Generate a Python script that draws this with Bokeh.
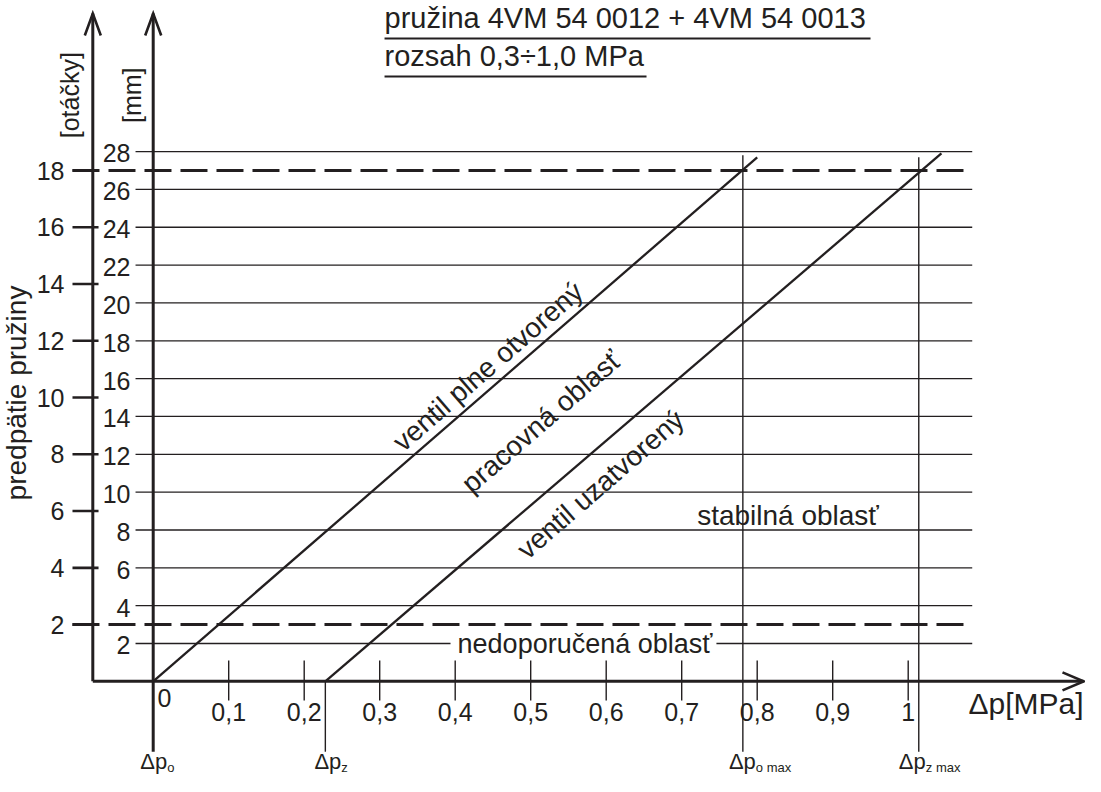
from bokeh.plotting import figure
from bokeh.models import Range1d
from bokeh.core.properties import value
from bokeh.embed import file_html
from bokeh.resources import INLINE

# ---------------- data ----------------
dp_ticks = [0.1, 0.2, 0.3, 0.4, 0.5, 0.6, 0.7, 0.8, 0.9, 1.0]
dp_tick_labels = ["0,1", "0,2", "0,3", "0,4", "0,5", "0,6", "0,7", "0,8", "0,9", "1"]

mm_ticks = [2, 4, 6, 8, 10, 12, 14, 16, 18, 20, 22, 24, 26, 28]
mm_tick_labels = [str(v) for v in mm_ticks]

turn_ticks = [2, 4, 6, 8, 10, 12, 14, 16, 18]
turn_tick_labels = [str(v) for v in turn_ticks]
mm_per_turn = 1.5                      # 18 turns = 27 mm

limit_turns = [2, 18]                  # dashed limits

# characteristic lines (Δp [MPa], pre-tension [mm])
open_dp = [0.0, 0.80]
open_mm = [0.0, 27.7]
closed_dp = [0.228, 1.044]
closed_mm = [0.0, 27.9]

# marker pressures
marker_dp = [0.0, 0.228, 0.781, 1.014]
marker_sub = ["o", "z", "o max", "z max"]
marker_top_mm = [None, 0.0, 27.8, 27.7]

title_lines = ["pružina 4VM 54 0012 + 4VM 54 0013", "rozsah 0,3÷1,0 MPa"]
region_texts = ["ventil plne otvorený", "pracovná oblasť", "ventil uzatvorený"]
stable_text = "stabilná oblasť"
notrec_text = "nedoporučená oblasť"

# ---------------- layout (data units) ----------------
PX_X = 755.0      # px per MPa
PX_Y = 18.92      # px per mm
W, H = 1085, 776
x0 = -152.7 / PX_X
y0 = -(H - 680.85) / PX_Y

INK = "#231f20"
FONT = value("Liberation Sans")

p = figure(width=W, height=H, output_backend="svg", toolbar_location=None,
           x_range=Range1d(x0, x0 + W / PX_X), y_range=Range1d(y0, y0 + H / PX_Y),
           x_axis_type=None, y_axis_type=None, min_border=0)
p.outline_line_color = None
p.background_fill_color = "white"
p.border_fill_color = "white"

left_ax_x = -0.080
axis_top = 35.30
axis_bottom = -3.72
grid_x0, grid_x1 = -0.0234, 1.0848
x_arrow_tip = 1.2322

# --- horizontal grid lines (mm) ---
gap = (0.3938, 0.746)   # break around the "nedoporučená oblasť" label
gx0, gx1, gy = [], [], []
for v in mm_ticks:
    if v == 2:
        gx0 += [grid_x0, gap[1]]
        gx1 += [gap[0], grid_x1]
        gy += [v, v]
    else:
        gx0.append(grid_x0); gx1.append(grid_x1); gy.append(v)
p.segment(x0=gx0, y0=gy, x1=gx1, y1=gy, line_color=INK, line_width=1.3)

# --- dashed limits ---
lim_mm = [t * mm_per_turn for t in limit_turns]
p.segment(x0=[-0.1069] * len(lim_mm), y0=lim_mm, x1=[1.08] * len(lim_mm), y1=lim_mm,
          line_color=INK, line_width=3, line_dash="27 9")

# --- marker verticals ---
mx = [marker_dp[i] for i in range(1, 4)]
mt = [marker_top_mm[i] for i in range(1, 4)]
p.segment(x0=mx, y0=mt, x1=mx, y1=[axis_bottom] * 3, line_color=INK, line_width=1.4)

# --- characteristic lines ---
p.line(open_dp, open_mm, line_color=INK, line_width=2.3)
p.line(closed_dp, closed_mm, line_color=INK, line_width=2.3)

# --- axes ---
p.segment(x0=[left_ax_x, 0.0, left_ax_x], y0=[0.0, axis_bottom, 0.0],
          x1=[left_ax_x, 0.0, x_arrow_tip], y1=[axis_top, axis_top, 0.0],
          line_color=INK, line_width=3)
# arrowheads
ah_w = 8 / PX_X
ah_l = 22 / PX_Y
xs = [[ax - ah_w, ax, ax + ah_w] for ax in (left_ax_x, 0.0)]
ys = [[axis_top - ah_l, axis_top, axis_top - ah_l] for _ in range(2)]
xs.append([x_arrow_tip - 21 / PX_X, x_arrow_tip, x_arrow_tip - 21 / PX_X])
ys.append([9 / PX_Y, 0.0, -9 / PX_Y])
p.multi_line(xs=xs, ys=ys, line_color=INK, line_width=2.6, line_join="miter")

# left axis ticks (turns)
turn_mm = [t * mm_per_turn for t in turn_ticks]
p.segment(x0=[-0.1069] * len(turn_mm), y0=turn_mm, x1=[-0.0724] * len(turn_mm), y1=turn_mm,
          line_color=INK, line_width=2.6)
# x ticks
p.segment(x0=dp_ticks, y0=[1.10] * len(dp_ticks), x1=dp_ticks, y1=[-1.01] * len(dp_ticks),
          line_color=INK, line_width=1.4)

def txt(x, y, t, size, align="center", angle=0):
    p.text(x=x, y=y, text=t, angle=angle, angle_units="deg", text_font=FONT,
           text_font_size=f"{size}px", text_align=align, text_baseline="middle",
           text_color=INK)

# --- tick labels ---
txt([-0.1175] * len(turn_mm), turn_mm, turn_tick_labels, 25, "right")
txt([-0.0301] * len(mm_ticks), [v - 0.1 for v in mm_ticks], mm_tick_labels, 25, "right")
txt(dp_ticks, [-1.64] * len(dp_ticks), dp_tick_labels, 25, "center")
txt([0.0057], [-0.88], ["0"], 25, "left")

# --- axis titles ---
txt([-0.1105, -0.0284], [30.98, 30.98], ["[otáčky]", "[mm]"], 25, "center", 90)
txt([-0.1811], [15.24], ["predpätie pružiny"], 28, "center", 90)
txt([x_arrow_tip], [-1.197], ["Δp[MPa]"], 30, "right")

# --- marker labels ---
sub_dx = [14, 16, 13, 7]
for d, s, dx in zip(marker_dp, marker_sub, sub_dx):
    p.text(x=[d], y=[-4.252], text=["Δp"], x_offset=dx, text_font=FONT,
           text_font_size="22px", text_align="right", text_baseline="middle",
           text_color=INK)
    p.text(x=[d], y=[-4.577], text=[s], x_offset=dx, text_font=FONT,
           text_font_size="13px", text_align="left", text_baseline="middle",
           text_color=INK)

# --- title ---
txt([0.3064, 0.3064], [35.05, 33.04], title_lines, 29, "left")
p.segment(x0=[0.3064, 0.3064], y0=[33.98, 31.97], x1=[0.9501, 0.6534], y1=[33.98, 31.97],
          line_color=INK, line_width=2)

# --- region labels ---
txt([0.4434, 0.5143, 0.5925], [16.64, 13.73, 10.41], region_texts, 28, "center", 41)
txt([0.8408], [8.755], [stable_text], 28, "center")
txt([0.5719], [1.971], [notrec_text], 27, "center")

open("out.html", "w").write(file_html(p, INLINE))
